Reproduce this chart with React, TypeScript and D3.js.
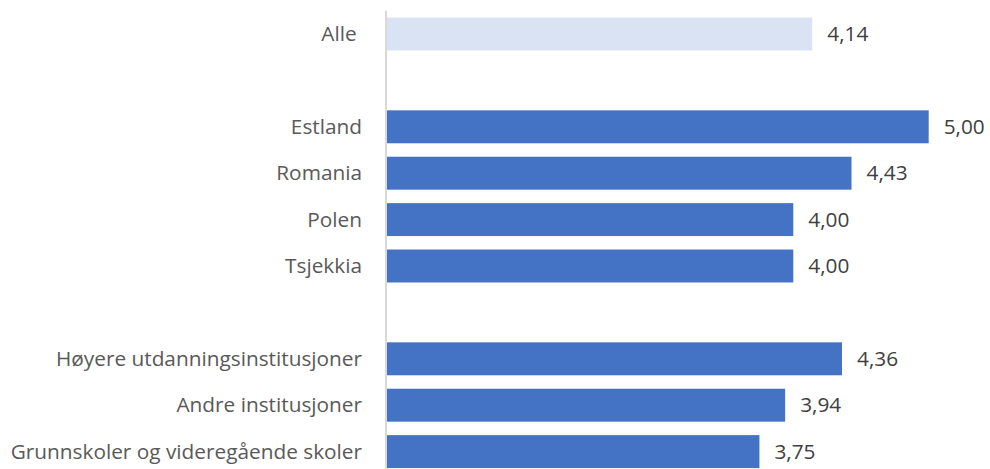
import React from "react";
import * as d3 from "d3";

const categories = [
  "Alle ",
  "",
  "Estland",
  "Romania",
  "Polen",
  "Tsjekkia",
  " ",
  "Høyere utdanningsinstitusjoner",
  "Andre institusjoner",
  "Grunnskoler og videregående skoler",
];
const values: (number | null)[] = [4.14, null, 5.0, 4.43, 4.0, 4.0, null, 4.36, 3.94, 3.75];
const highlight = ["Alle "];

const W = 990;
const H = 469;

export default function App() {
  const x = d3.scaleLinear().domain([1, 5]).range([387, 928.7]);
  const y = d3
    .scaleBand<string>()
    .domain(categories)
    .range([10.8, 474.8])
    .paddingInner(0.29)
    .paddingOuter(0.145);
  const fmt = (v: number) => d3.format(".2f")(v).replace(".", ",");
  const font = "'Open Sans', 'Noto Sans', sans-serif";
  return (
    <svg
      width={W}
      height={H}
      style={{ position: "absolute", left: 0, top: 0, background: "#fff" }}
    >
      {categories.map((c, i) => {
        const v = values[i];
        const yc = (y(c) ?? 0) + y.bandwidth() / 2;
        return (
          <g key={i}>
            {c.trim() !== "" && (
              <text
                x={362}
                y={yc}
                dy="0.35em"
                textAnchor="end"
                fontFamily={font}
                fontSize={20.8}
                fill="#595959"
                style={{ whiteSpace: "pre" }}
              >
                {c}
              </text>
            )}
            {v != null && (
              <>
                <rect
                  x={x(1)}
                  y={y(c)}
                  width={x(v) - x(1)}
                  height={y.bandwidth()}
                  fill={highlight.includes(c) ? "#DAE3F3" : "#4472C4"}
                />
                <text
                  x={x(v) + 15}
                  y={yc}
                  dy="0.35em"
                  textAnchor="start"
                  fontFamily={font}
                  fontSize={20.8}
                  fill="#404040"
                >
                  {fmt(v)}
                </text>
              </>
            )}
          </g>
        );
      })}
      <line
        x1={x(1) - 1}
        x2={x(1) - 1}
        y1={y.range()[0]}
        y2={y.range()[1]}
        stroke="#D9D9D9"
        strokeWidth={2}
      />
    </svg>
  );
}
